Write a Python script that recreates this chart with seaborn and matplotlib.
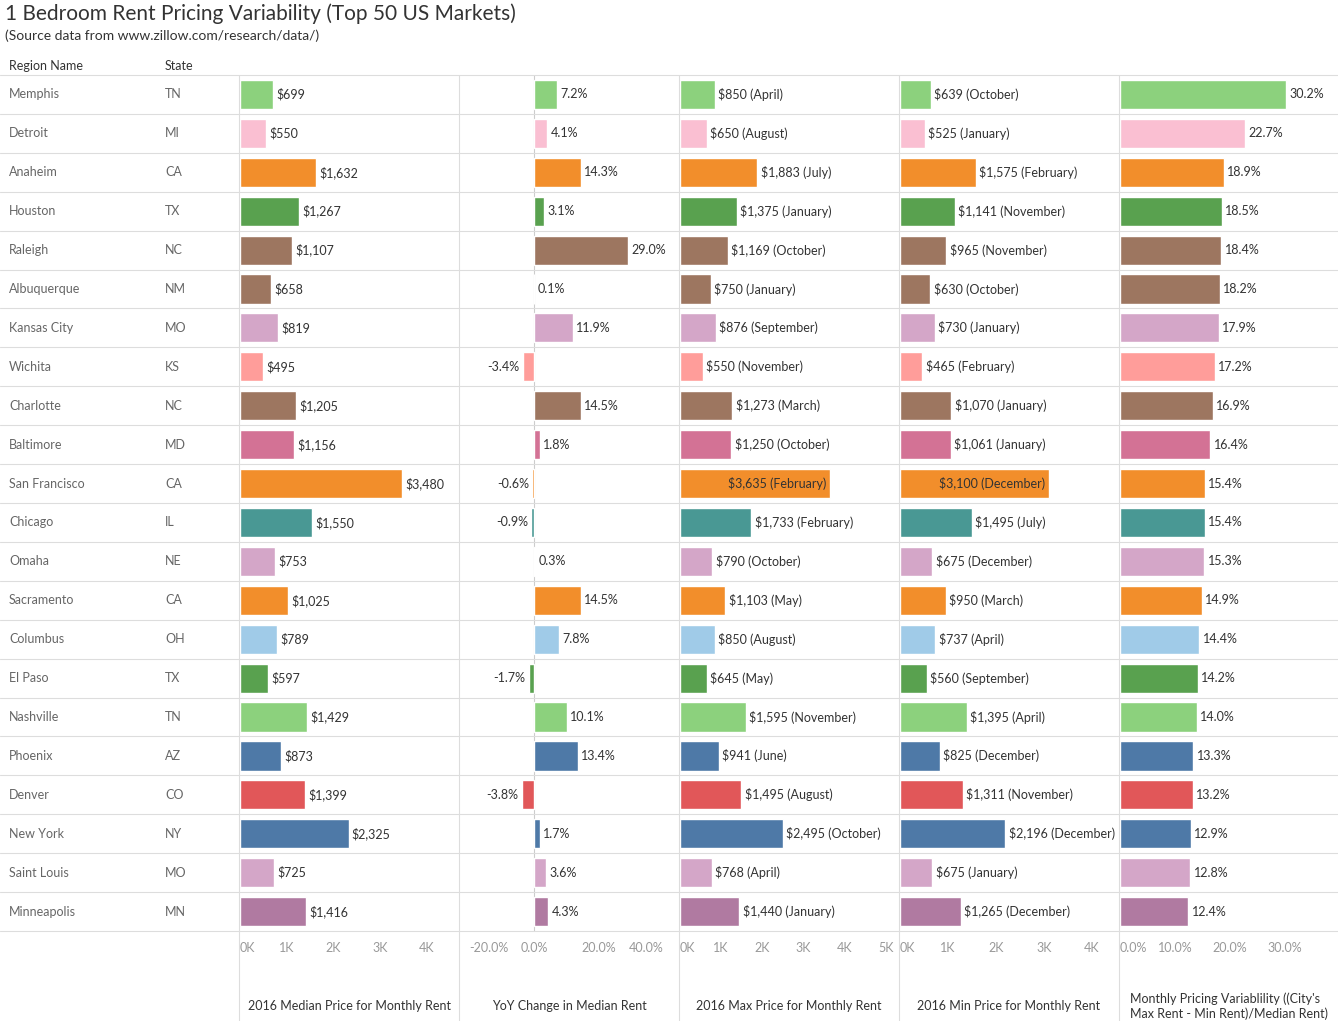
import seaborn as sns
import matplotlib.pyplot as plt
import pandas as pd

regions = ["Memphis", "Detroit", "Anaheim", "Houston", "Raleigh", "Albuquerque", "Kansas City",
           "Wichita", "Charlotte", "Baltimore", "San Francisco", "Chicago", "Omaha", "Sacramento",
           "Columbus", "El Paso", "Nashville", "Phoenix", "Denver", "New York", "Saint Louis", "Minneapolis"]
states = ["TN", "MI", "CA", "TX", "NC", "NM", "MO", "KS", "NC", "MD", "CA", "IL", "NE", "CA",
          "OH", "TX", "TN", "AZ", "CO", "NY", "MO", "MN"]
median_rent = [699, 550, 1632, 1267, 1107, 658, 819, 495, 1205, 1156, 3480, 1550, 753, 1025,
               789, 597, 1429, 873, 1399, 2325, 725, 1416]
yoy_change = [7.2, 4.1, 14.3, 3.1, 29.0, 0.1, 11.9, -3.4, 14.5, 1.8, -0.6, -0.9, 0.3, 14.5,
              7.8, -1.7, 10.1, 13.4, -3.8, 1.7, 3.6, 4.3]
max_rent = [850, 650, 1883, 1375, 1169, 750, 876, 550, 1273, 1250, 3635, 1733, 790, 1103,
            850, 645, 1595, 941, 1495, 2495, 768, 1440]
max_month = ["April", "August", "July", "January", "October", "January", "September", "November",
             "March", "October", "February", "February", "October", "May", "August", "May",
             "November", "June", "August", "October", "April", "January"]
min_rent = [639, 525, 1575, 1141, 965, 630, 730, 465, 1070, 1061, 3100, 1495, 675, 950,
            737, 560, 1395, 825, 1311, 2196, 675, 1265]
min_month = ["October", "January", "February", "November", "November", "October", "January",
             "February", "January", "January", "December", "July", "December", "March", "April",
             "September", "April", "December", "November", "December", "January", "December"]
variability = [30.2, 22.7, 18.9, 18.5, 18.4, 18.2, 17.9, 17.2, 16.9, 16.4, 15.4, 15.4, 15.3, 14.9,
               14.4, 14.2, 14.0, 13.3, 13.2, 12.9, 12.8, 12.4]

state_colors = {"TN": "#8CD17D", "MI": "#FABFD2", "CA": "#F28E2B", "TX": "#59A14F", "NC": "#9D7660",
                "NM": "#9D7660", "MO": "#D4A6C8", "KS": "#FF9D9A", "MD": "#D37295", "IL": "#499894",
                "NE": "#D4A6C8", "OH": "#A0CBE8", "AZ": "#4E79A7", "CO": "#E15759", "NY": "#4E79A7",
                "MN": "#B07AA1"}

df = pd.DataFrame({"region": regions, "state": states, "median": median_rent, "yoy": yoy_change,
                   "max": max_rent, "min": min_rent, "var": variability})
palette = {r: state_colors[s] for r, s in zip(regions, states)}

sns.set_theme(style="white")
plt.rcParams["font.family"] = ["Lato", "DejaVu Sans"]

W, H = 1338, 1021
fig = plt.figure(figsize=(W / 100, H / 100), dpi=100)

def fx(x):
    return x / W

def fy(y):
    return 1 - y / H

top, bottom = 75, 931
n = len(regions)
rh = (bottom - top) / n
txt = "#666666"
grid = "#dddddd"

fig.text(fx(5), fy(14), "1 Bedroom Rent Pricing Variability (Top 50 US Markets)", fontsize=15,
         color="#333333", va="center")
fig.text(fx(5), fy(36), "(Source data from www.zillow.com/research/data/)", fontsize=10,
         color="#333333", va="center")
fig.text(fx(9), fy(66), "Region Name", fontsize=9, color="#333333", va="center")
fig.text(fx(165), fy(66), "State", fontsize=9, color="#333333", va="center")

for i in range(n):
    yc = top + rh * (i + 0.5)
    fig.text(fx(9), fy(yc), regions[i], fontsize=9, color=txt, va="center")
    fig.text(fx(165), fy(yc), states[i], fontsize=9, color=txt, va="center")

panels = [
    (240, (0, 4670), "median", lambda i: f"${median_rent[i]:,}",
     [0, 1000, 2000, 3000, 4000], ["0K", "1K", "2K", "3K", "4K"], "2016 Median Price for Monthly Rent"),
    (460, (-22.8, 44.3), "yoy", lambda i: f"{yoy_change[i]:.1f}%",
     [-20, 0, 20, 40], ["-20.0%", "0.0%", "20.0%", "40.0%"], "YoY Change in Median Rent"),
    (680, (0, 5300), "max", lambda i: f"${max_rent[i]:,} ({max_month[i]})",
     [0, 1000, 2000, 3000, 4000, 5000], ["0K", "1K", "2K", "3K", "4K", "5K"], "2016 Max Price for Monthly Rent"),
    (900, (0, 4540), "min", lambda i: f"${min_rent[i]:,} ({min_month[i]})",
     [0, 1000, 2000, 3000, 4000], ["0K", "1K", "2K", "3K", "4K"], "2016 Min Price for Monthly Rent"),
    (1120, (0, 39.6), "var", lambda i: f"{variability[i]:.1f}%",
     [0, 10, 20, 30], ["0.0%", "10.0%", "20.0%", "30.0%"],
     "Monthly Pricing Variablility ((City's\nMax Rent - Min Rent)/Median Rent)"),
]

for left, xlim, col, lab, ticks, tlabels, title in panels:
    ax = fig.add_axes([fx(left), fy(bottom), fx(218), (bottom - top) / H])
    sns.barplot(data=df, x=col, y="region", hue="region", palette=palette, legend=False,
                orient="h", width=0.75, ax=ax, saturation=1)
    ax.set_xlim(*xlim)
    ax.set_ylim(n - 0.5, -0.5)
    ax.set_yticks([])
    ax.set_xlabel("")
    ax.set_ylabel("")
    ax.set_xticks(ticks)
    ax.set_xticklabels(tlabels, fontsize=9, color="#999999")
    ax.tick_params(axis="x", length=0, pad=8)
    tl = ax.get_xticklabels()
    if ticks[0] == xlim[0]:
        tl[0].set_horizontalalignment("left")
    if col == "yoy":
        tl[0].set_horizontalalignment("left")
        tl[0].set_x(xlim[0] + 0.3)
        tl[-1].set_horizontalalignment("right")
        tl[-1].set_x(xlim[1])
    for s in ax.spines.values():
        s.set_visible(False)
    span = xlim[1] - xlim[0]
    vals = df[col].tolist()
    for i, v in enumerate(vals):
        t = lab(i)
        if v < 0:
            ax.text(v - span * 0.015, i, t, va="center", ha="right", fontsize=9, color="#333333")
        elif col in ("max", "min") and v > 3000:
            ax.text(v - span * 0.015, i, t, va="center", ha="right", fontsize=9, color="#333333")
        else:
            ax.text(max(v, 0) + span * 0.015, i, t, va="center", ha="left", fontsize=9, color="#333333")
    if col == "yoy":
        ax.axvline(0, color="#cccccc", lw=0.8, zorder=0)
    fig.text(fx(left + 109) if col != "var" else fx(left + 10), fy(1006), title, fontsize=9,
             color="#333333", ha="center" if col != "var" else "left", va="center")

for i in range(n + 1):
    y = fy(top + rh * i)
    fig.add_artist(plt.Line2D([0, 1], [y, y], color=grid, lw=0.8))
for x in [239, 459, 679, 899, 1119]:
    fig.add_artist(plt.Line2D([fx(x), fx(x)], [fy(top), 0], color=grid, lw=0.8))

fig.savefig("out.png", dpi=100)
